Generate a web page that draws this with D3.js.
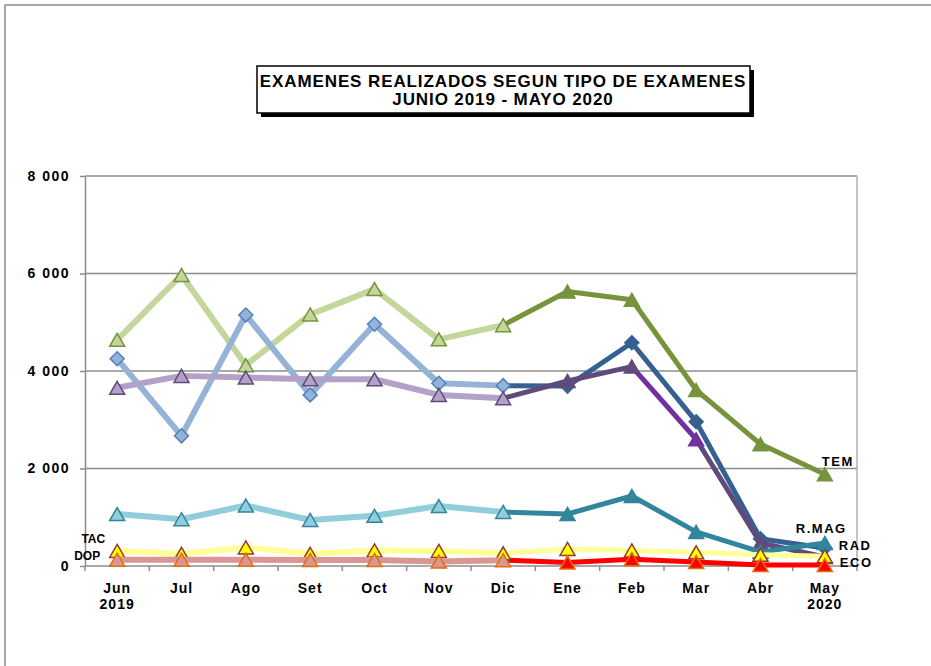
<!DOCTYPE html>
<html>
<head>
<meta charset="utf-8">
<script src="https://cdn.jsdelivr.net/npm/d3@7"></script>
<style>
	body { margin: 0; background: #fff; }
	svg text { font-family: "Liberation Sans", Arial, sans-serif; font-weight: bold; fill: #000; }
</style>
</head>
<body>
<svg id="chart" width="931" height="666"></svg>
<script>
// months and values
var months = ["Jun", "Jul", "Ago", "Set", "Oct", "Nov", "Dic", "Ene", "Feb", "Mar", "Abr", "May"];
var yearLabels = ["2019", "", "", "", "", "", "", "", "", "", "", "2020"];

var tem  = [4640, 5970, 4120, 5160, 5680, 4650, 4940, 5630, 5460, 3610, 2500, 1880];
var rad  = [4250, 2670, 5150, 3510, 4960, 3750, 3700, 3690, 4580, 2960, 560, 370];
var eco  = [3655, 3900, 3865, 3830, 3830, 3510, 3440, 3795, 4090, 2600, 470, 185];
var rmag = [1065, 960, 1240, 944, 1030, 1230, 1108, 1067, 1436, 700, 290, 472];
var tac  = [310, 250, 380, 250, 320, 310, 260, 350, 320, 280, 230, 200];
var dop  = [130, 130, 130, 125, 125, 90, 120, 70, 140, 80, 20, 20];

var yTicks = [0, 2000, 4000, 6000, 8000];
var titleLines = ["EXAMENES REALIZADOS SEGUN TIPO DE EXAMENES", "JUNIO 2019 - MAYO 2020"];

// 2019 part is drawn light, 2020 part dark (split at Dic)
var split = 6;

var tri = "M0,-6.5L7.5,6.5L-7.5,6.5Z";
var dia = "M0,-7L7,0L0,7L-7,0Z";

var series = [
	{ name: "TEM", values: tem, shape: tri,
		light: { line: "#c3d69b", fill: "#c3d69b", stroke: "#77933c" },
		dark: { line: "#77933c", fill: "#77933c", stroke: "#77933c" } },
	{ name: "RAD", values: rad, shape: dia,
		light: { line: "#95b3d7", fill: "#95b3d7", stroke: "#4f81bd" },
		dark: { line: "#366092", fill: "#366092", stroke: "#366092" } },
	{ name: "ECO", values: eco, shape: tri,
		light: { line: "#b3a2c7", fill: "#b3a2c7", stroke: "#604a7b" },
		dark: { line: "#604a7b", fill: "#604a7b", stroke: "#604a7b" },
		pointColor: { 9: "#7030a0" } },
	{ name: "R.MAG", values: rmag, shape: tri,
		light: { line: "#92cddc", fill: "#92cddc", stroke: "#31859c" },
		dark: { line: "#31859c", fill: "#31859c", stroke: "#31859c" } },
	{ name: "TAC", values: tac, shape: tri,
		light: { line: "#ffff99", fill: "#ffff00", stroke: "#953735" },
		dark: { line: "#ffff99", fill: "#ffff00", stroke: "#953735" } },
	{ name: "DOP", values: dop, shape: tri,
		light: { line: "#d99694", fill: "#d99694", stroke: "#e46c0a" },
		dark: { line: "#ff0000", fill: "#ff0000", stroke: "#e46c0a" } }
];

// end labels: which series / month they sit next to, and offset
var endLabels = [
	{ text: "TEM", s: 0, i: 11, dx: -3, dy: -8, anchor: "start", size: 13 },
	{ text: "R.MAG", s: 3, i: 11, dx: -29, dy: -10, anchor: "start", size: 13 },
	{ text: "RAD", s: 3, i: 11, dx: 14, dy: 7, anchor: "start", size: 13 },
	{ text: "ECO", s: 2, i: 11, dx: 15, dy: 10, anchor: "start", size: 13 },
	{ text: "TAC", s: 4, i: 0, dx: -12, dy: -8, anchor: "end", size: 12 },
	{ text: "DOP", s: 5, i: 0, dx: -17, dy: 0, anchor: "end", size: 12 }
];

var svg = d3.select("#chart");
var pLeft = 85, pRight = 857, pTop = 176, pBottom = 566;

var x = d3.scaleBand().domain(months).range([pLeft, pRight]);
var y = d3.scaleLinear().domain([0, 8000]).range([pBottom, pTop]);
var fmt = d3.formatLocale({ decimal: ",", thousands: " ", grouping: [3], currency: ["", ""] }).format(",");

function cx(i) { return x(months[i]) + x.bandwidth() / 2; }

// outer frame
svg.append("rect")
	.attr("x", 5).attr("y", 5).attr("width", 1000).attr("height", 1000)
	.attr("fill", "none").attr("stroke", "#8c8c8c").attr("stroke-width", 1.5);

// gridlines
svg.append("g").selectAll("line")
	.data(yTicks.filter(function(d) { return d > 0; }))
	.join("line")
	.attr("x1", pLeft).attr("x2", pRight)
	.attr("y1", function(d) { return y(d); }).attr("y2", function(d) { return y(d); })
	.attr("stroke", "#8c8c8c").attr("stroke-width", 1.5);

svg.append("line")
	.attr("x1", pRight).attr("x2", pRight).attr("y1", pTop).attr("y2", pBottom)
	.attr("stroke", "#b0b0b0").attr("stroke-width", 1.5);

// y axis
var yAxis = d3.axisLeft(y).tickValues(yTicks).tickFormat(fmt).tickSizeInner(5).tickSizeOuter(0).tickPadding(10);
var gy = svg.append("g").attr("transform", "translate(" + pLeft + ",0)").call(yAxis);
gy.select(".domain").attr("stroke", "#8c8c8c").attr("stroke-width", 1.5);
gy.selectAll(".tick line").attr("stroke", "#8c8c8c").attr("stroke-width", 1.5);
gy.selectAll(".tick text")
	.style("font-size", "14px").style("letter-spacing", "1.5px").attr("fill", "#000");

// x axis: ticks sit on the category boundaries
var gx = svg.append("g").attr("transform", "translate(0," + pBottom + ")");
gx.append("line").attr("x1", pLeft).attr("x2", pRight)
	.attr("stroke", "#8c8c8c").attr("stroke-width", 1.5);
gx.selectAll("line.tk")
	.data(months.concat(["end"]))
	.join("line").attr("class", "tk")
	.attr("x1", function(d, i) { return pLeft + i * x.step(); })
	.attr("x2", function(d, i) { return pLeft + i * x.step(); })
	.attr("y1", 0).attr("y2", 5)
	.attr("stroke", "#8c8c8c").attr("stroke-width", 1.5);
gx.selectAll("text.m")
	.data(months)
	.join("text").attr("class", "m")
	.attr("x", function(d, i) { return cx(i); })
	.attr("y", 27)
	.attr("text-anchor", "middle")
	.style("font-size", "14px").style("letter-spacing", "1px")
	.text(function(d) { return d; });
gx.selectAll("text.yr")
	.data(yearLabels)
	.join("text").attr("class", "yr")
	.attr("x", function(d, i) { return cx(i); })
	.attr("y", 43)
	.attr("text-anchor", "middle")
	.style("font-size", "14px").style("letter-spacing", "1px")
	.text(function(d) { return d; });

// series: dark 2020 part first, light 2019 part on top
var lineGen = d3.line()
	.x(function(d) { return cx(d.i); })
	.y(function(d) { return y(d.v); });

function pts(s, a, b) {
	var out = [];
	for (var i = a; i <= b; i++) out.push({ i: i, v: s.values[i] });
	return out;
}

function drawPart(s, part, a, b, width, markFrom) {
	var st = s[part];
	var g = svg.append("g");
	var p = pts(s, a, b);
	for (var k = 1; k < p.length; k++) {
		var col = (s.pointColor && s.pointColor[p[k].i]) || st.line;
		g.append("path")
			.attr("d", lineGen([p[k - 1], p[k]]))
			.attr("fill", "none").attr("stroke", col)
			.attr("stroke-width", width).attr("stroke-linecap", "round");
	}
	g.selectAll("path.mk")
		.data(p.filter(function(d) { return d.i >= markFrom; }))
		.join("path").attr("class", "mk")
		.attr("d", s.shape)
		.attr("transform", function(d) { return "translate(" + cx(d.i) + "," + y(d.v) + ")"; })
		.attr("fill", function(d) { return (s.pointColor && s.pointColor[d.i]) || st.fill; })
		.attr("stroke", function(d) { return (s.pointColor && s.pointColor[d.i]) || st.stroke; })
		.attr("stroke-width", 1.5);
}

series.forEach(function(s) { drawPart(s, "dark", split, months.length - 1, 5, split + 1); });
series.forEach(function(s) { drawPart(s, "light", 0, split, 6, 0); });

// series labels
svg.append("g").selectAll("text")
	.data(endLabels)
	.join("text")
	.attr("x", function(d) { return cx(d.i) + d.dx; })
	.attr("y", function(d) { return y(series[d.s].values[d.i]) + d.dy; })
	.attr("text-anchor", function(d) { return d.anchor; })
	.style("font-size", function(d) { return d.size + "px"; })
	.style("letter-spacing", function(d) { return d.size > 12 ? "1.5px" : "0px"; })
	.text(function(d) { return d.text; });

// title box with shadow
svg.append("rect").attr("x", 261).attr("y", 70).attr("width", 493).attr("height", 47).attr("fill", "#000");
svg.append("rect").attr("x", 257).attr("y", 66).attr("width", 493).attr("height", 47)
	.attr("fill", "#fff").attr("stroke", "#000").attr("stroke-width", 1.5);
svg.append("g").selectAll("text")
	.data(titleLines)
	.join("text")
	.attr("x", 503)
	.attr("y", function(d, i) { return 87 + i * 18; })
	.attr("text-anchor", "middle")
	.style("font-size", "17px").style("letter-spacing", "0.9px")
	.text(function(d) { return d; });
</script>
</body>
</html>
